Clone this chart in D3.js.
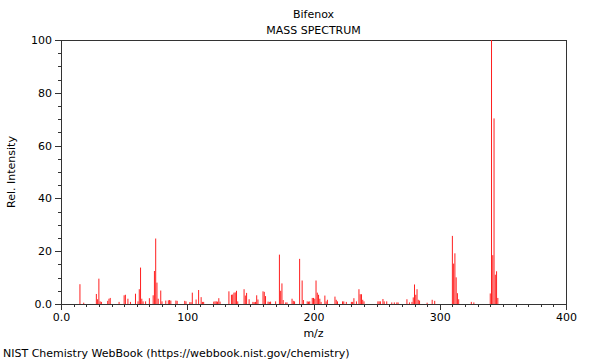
<!DOCTYPE html>
<html>
<head>
<meta charset="utf-8">
<script src="https://cdn.jsdelivr.net/npm/d3@7"></script>
<style>
  body { margin: 0; background: #fff; }
  text { font-family: "DejaVu Sans", sans-serif; }
</style>
</head>
<body>
<div class="canvas"></div>
<script>
// spectrum peaks (m/z and relative intensity)
const mz = [15, 18, 28, 29, 30, 31, 32, 37, 38, 39, 46, 50, 51, 53, 55, 59, 61, 62, 63, 64,
  65, 67, 70, 73, 74, 75, 76, 77, 79, 80, 83, 85, 86, 87, 91, 92, 98, 99, 102, 103,
  104, 107, 109, 111, 112, 113, 121, 122, 123, 124, 125, 126, 133, 135, 136, 137, 138, 139, 140, 145,
  146, 147, 149, 152, 153, 154, 155, 156, 160, 161, 162, 164, 165, 166, 170, 173, 174, 175, 176, 178,
  179, 183, 184, 185, 189, 191, 192, 195, 196, 197, 199, 200, 201, 202, 203, 204, 205, 206, 209, 210,
  211, 217, 218, 219, 223, 224, 226, 230, 231, 232, 234, 236, 237, 238, 239, 240, 251, 252, 253, 255,
  256, 258, 262, 264, 266, 267, 274, 276, 278, 279, 280, 281, 282, 283, 284, 290, 294, 296, 310, 311,
  312, 313, 314, 315, 325, 327, 340, 341, 342, 343, 344, 345, 346];
const intensity = [7.5, 0.5, 3.8, 1.8, 9.6, 1.0, 0.8, 1.2, 2.0, 2.3, 0.8, 3.3, 3.5, 2.0, 0.8, 3.9, 1.0, 5.6, 13.8, 2.0,
  1.0, 1.0, 2.2, 3.3, 12.5, 24.8, 8.1, 2.0, 5.1, 1.0, 1.3, 1.4, 1.5, 1.3, 1.3, 1.2, 1.2, 1.0, 0.7, 0.7,
  4.3, 1.7, 5.3, 2.6, 0.8, 0.8, 0.9, 1.0, 1.0, 0.9, 2.2, 0.9, 4.8, 3.5, 3.6, 4.3, 4.4, 5.0, 1.0, 5.6,
  3.2, 4.2, 1.8, 0.8, 0.7, 0.8, 3.3, 1.7, 4.8, 4.6, 3.0, 0.9, 0.8, 0.9, 1.0, 18.7, 5.0, 7.8, 1.5, 0.6,
  0.6, 2.0, 1.2, 1.0, 17.1, 8.9, 1.5, 1.0, 0.9, 1.0, 2.3, 2.3, 2.0, 8.9, 4.3, 3.5, 2.0, 0.8, 3.2, 1.0,
  1.6, 2.8, 1.6, 1.0, 1.0, 1.0, 0.8, 0.8, 0.8, 2.2, 1.0, 5.6, 3.7, 3.7, 1.6, 1.0, 1.0, 1.0, 1.0, 1.9,
  1.0, 1.0, 0.6, 0.6, 0.6, 0.6, 1.8, 0.6, 0.8, 2.5, 7.4, 3.5, 5.6, 1.6, 1.3, 0.5, 1.6, 1.2, 25.8, 15.3,
  19.2, 10.1, 4.1, 1.8, 0.8, 0.6, 4.0, 100, 18.5, 70.3, 11.1, 12.4, 2.3];

const xTicks = [0, 100, 200, 300, 400];
const yTicks = [0, 20, 40, 60, 80, 100];

const width = 600;
const height = 360;
const margin = { top: 40, right: 34, bottom: 56, left: 61 };
const graphWidth = width - margin.left - margin.right;
const graphHeight = height - margin.top - margin.bottom;

const svg = d3.select(".canvas")
  .append("svg")
  .attr("width", width)
  .attr("height", height);

const graph = svg.append("g")
  .attr("transform", `translate(${margin.left},${margin.top})`);

const x = d3.scaleLinear().domain([0, 400]).range([0, graphWidth]);
const y = d3.scaleLinear().domain([0, 100]).range([graphHeight, 0]);

// minor ticks
const xMinor = d3.axisBottom(x).tickValues(d3.range(0, 401, 10)).tickSize(3).tickFormat("");
const yMinor = d3.axisLeft(y).tickValues(d3.range(0, 101, 5)).tickSize(3).tickFormat("");
graph.append("g").attr("transform", `translate(0,${graphHeight})`).call(xMinor);
graph.append("g").call(yMinor);

// major ticks + labels
const xAxis = d3.axisBottom(x).tickValues(xTicks).tickSize(6).tickPadding(3)
  .tickFormat(d => d === 0 ? "0.0" : d);
const yAxis = d3.axisLeft(y).tickValues(yTicks).tickSize(6).tickPadding(3)
  .tickFormat(d => d === 0 ? "0.0" : d);
graph.append("g").attr("transform", `translate(0,${graphHeight})`).call(xAxis);
graph.append("g").call(yAxis);

graph.selectAll(".domain").remove();
graph.selectAll(".tick line").attr("stroke", "#333").attr("shape-rendering", "crispEdges");
graph.selectAll(".tick text")
  .attr("font-size", 11)
  .attr("fill", "#000")
  .attr("font-family", "DejaVu Sans, sans-serif");

// frame
graph.append("rect")
  .attr("width", graphWidth)
  .attr("height", graphHeight)
  .attr("fill", "none")
  .attr("stroke", "#333")
  .attr("stroke-width", 1)
  .attr("shape-rendering", "crispEdges");

// peaks as thin bars, drawn above the frame
graph.selectAll("rect.peak")
  .data(mz)
  .enter()
  .append("rect")
  .attr("class", "peak")
  .attr("x", d => x(d) - 0.5)
  .attr("width", 1)
  .attr("y", (d, i) => y(intensity[i]))
  .attr("height", (d, i) => y(0) - y(intensity[i]))
  .attr("fill", "#ff2020");

// titles and labels
const cx = margin.left + graphWidth / 2;
svg.append("text").attr("x", cx).attr("y", 18).attr("text-anchor", "middle")
  .attr("font-size", 11).text("Bifenox");
svg.append("text").attr("x", cx).attr("y", 34).attr("text-anchor", "middle")
  .attr("font-size", 11).text("MASS SPECTRUM");
svg.append("text").attr("x", cx).attr("y", 337).attr("text-anchor", "middle")
  .attr("font-size", 11).text("m/z");
svg.append("text")
  .attr("transform", `translate(15,${margin.top + graphHeight / 2}) rotate(-90)`)
  .attr("text-anchor", "middle")
  .attr("font-size", 11)
  .text("Rel. Intensity");
svg.append("text").attr("x", 3).attr("y", 357)
  .attr("font-size", 11)
  .text("NIST Chemistry WebBook (https://webbook.nist.gov/chemistry)");
</script>
</body>
</html>
